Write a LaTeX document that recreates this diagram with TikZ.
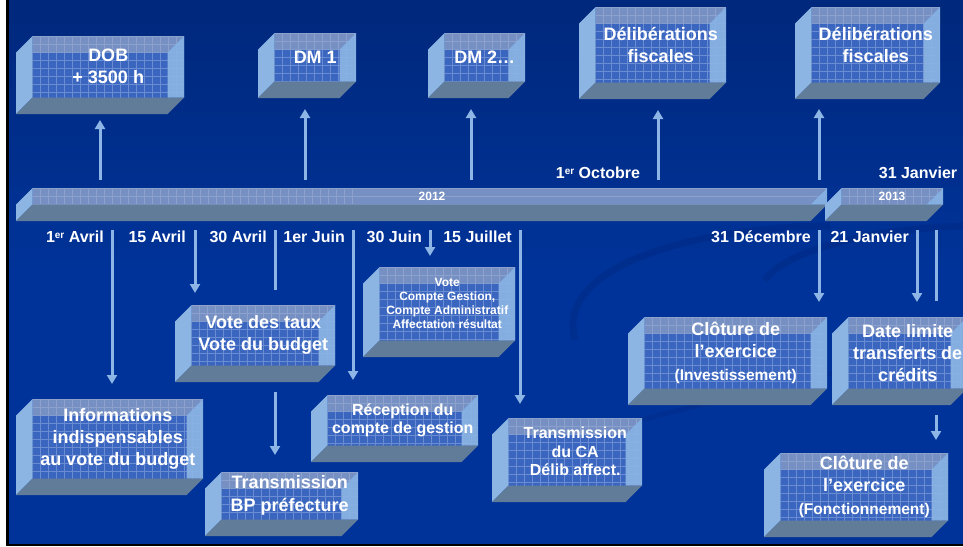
\documentclass[tikz,border=0pt]{standalone}
\usepackage{fontspec}
\setmainfont{Liberation Sans}
\usetikzlibrary{arrows.meta}
\definecolor{bgtop}{HTML}{00287C}
\definecolor{bgmid}{HTML}{003399}
\definecolor{backc}{HTML}{3B66C0}
\definecolor{gridc}{HTML}{6A8CD2}
\definecolor{topc}{HTML}{A8B4C8}
\definecolor{sidec}{HTML}{8DB5E4}
\definecolor{botc}{HTML}{607C98}
\definecolor{arrc}{HTML}{8DB6E6}
\definecolor{swoosh}{HTML}{002A85}
\newcommand\tdbox[7]{%
  \fill[backc] (#2+16.5,#3) rectangle (#4,#5-16.5);
  \begin{scope}
    \clip (#2+16.5,#3) rectangle (#4,#5-16.5);
    \foreach \gq in {0,8,...,320} {\draw[gridc,line width=0.5pt] (#2+16.5+\gq,#3) -- (#2+16.5+\gq,#5);}
    \foreach \gq in {0,8,...,120} {\draw[gridc,line width=0.5pt] (#2,#3+\gq) -- (#4,#3+\gq);}
  \end{scope}
  \fill[topc,opacity=0.55] (#2+16.5,#3) -- (#4,#3) -- (#4-16.5,#3+16.5) -- (#2+16.5,#3+16.5) -- cycle;
  \fill[sidec] (#2,#3+16.5) -- (#2+16.5,#3) -- (#2+16.5,#5-16.5) -- (#2,#5) -- cycle;
  \fill[sidec,opacity=0.9] (#4,#3) -- (#4-16.5,#3+16.5) -- (#4-16.5,#5-16.5) -- (#4,#5-16.5) -- cycle;
  \fill[botc] (#2,#5) -- (#2+16.5,#5-16.5) -- (#4,#5-16.5) -- (#4-16.5,#5) -- cycle;
  \node[boxtext,#6] (#1) at ({(#2+16.5+#4)/2},{(#3+#5-16.5)/2}) {#7};
}
\begin{document}
\begin{tikzpicture}[x=1pt,y=-1pt,
  boxtext/.style={text=white,align=center,inner sep=0pt},
  big/.style={font=\fontsize{18}{22}\selectfont\bfseries},
  bigb/.style={font=\fontsize{18}{23}\selectfont\bfseries},
  med/.style={font=\fontsize{16}{18.5}\selectfont\bfseries},
  sml/.style={font=\fontsize{12}{14}\selectfont\bfseries},
  nolbl/.style={},
  datelbl/.style={text=white,font=\fontsize{16}{18}\selectfont\bfseries,inner sep=0pt},
  yearlbl/.style={text=white,font=\fontsize{12}{14}\selectfont\bfseries,inner sep=0pt},
  arr/.style={draw=arrc,line width=3pt,-{Triangle[width=10pt,length=9pt]},fill=arrc},
  tick/.style={draw=arrc,line width=3pt}]
\useasboundingbox (0,0) rectangle (963,546);
% background
\fill[white] (0,0) rectangle (6,546);
\fill[black] (6,0) rectangle (9,546);
\shade[top color=bgtop,bottom color=bgmid,middle color=bgmid,shading angle=0] (9,0) rectangle (963,544);
\fill[black] (6,544) rectangle (963,546);
% faint swooshes
\draw[swoosh,line width=7pt,opacity=0.55] (575,340) .. controls (555,270) and (680,228) .. (830,226);
\draw[swoosh,line width=7pt,opacity=0.55] (765,280) .. controls (790,245) and (890,228) .. (963,226);
\draw[swoosh,line width=5pt,opacity=0.4] (640,420) .. controls (760,390) and (880,360) .. (963,345);
% timeline bars
\tdbox{bar12}{16}{188}{827}{221}{nolbl}{}
\tdbox{bar13}{825}{188}{943}{221}{nolbl}{}
\node[yearlbl] (y12) at (432,196) {2012};
\node[yearlbl] (y13) at (892,196) {2013};
% top boxes
\tdbox{dob}{16}{36}{184}{114}{big}{DOB\\+ 3500 h}
\tdbox{dm1}{258}{33}{356}{98}{big}{DM 1}
\tdbox{dm2}{428}{33}{525}{98}{big}{DM 2…}
\tdbox{delA}{579}{7}{726}{99}{big}{Délibérations\\fiscales}
\tdbox{delB}{795}{7}{940}{99}{big}{Délibérations\\fiscales}
% up arrows
\coordinate (u1) at (100,180); \coordinate (u1e) at (100,120);
\coordinate (u2) at (305,180); \coordinate (u2e) at (305,109);
\coordinate (u3) at (471,180); \coordinate (u3e) at (471,109);
\coordinate (u4) at (658,180); \coordinate (u4e) at (658,110);
\coordinate (u5) at (819,180); \coordinate (u5e) at (819,109);
\draw[arr] (u1) -- (u1e);
\draw[arr] (u2) -- (u2e);
\draw[arr] (u3) -- (u3e);
\draw[arr] (u4) -- (u4e);
\draw[arr] (u5) -- (u5e);
\node[datelbl] (oct) at (598,173) {1{\fontsize{10}{12}\selectfont\raisebox{4.5pt}{er}} Octobre};
\node[datelbl] (jan31) at (918,173) {31 Janvier};
% date labels
\node[datelbl,anchor=east] (d1) at (104,237) {1{\fontsize{10}{12}\selectfont\raisebox{4.5pt}{er}} Avril};
\node[datelbl,anchor=east] (d2) at (186,237) {15 Avril};
\node[datelbl,anchor=east] (d3) at (267,237) {30 Avril};
\node[datelbl,anchor=east] (d4) at (345,237) {1er Juin};
\node[datelbl,anchor=east] (d5) at (422,237) {30 Juin};
\node[datelbl,anchor=east] (d6) at (512,237) {15 Juillet};
\node[datelbl,anchor=east] (d7) at (811,237) {31 Décembre};
\node[datelbl,anchor=east] (d8) at (909,237) {21 Janvier};
% lower boxes
\tdbox{vote}{363}{267}{515}{357}{sml}{Vote\\Compte Gestion,\\Compte Administratif\\Affectation résultat}
\tdbox{taux}{175}{305}{335}{382}{big}{Vote des taux\\Vote du budget}
\tdbox{info}{16}{399}{203}{495}{big}{Informations\\indispensables\\au vote du budget}
\tdbox{bp}{205}{472}{358}{536}{bigb}{Transmission\\BP préfecture}
\tdbox{recep}{311}{395}{478}{462}{med}{Réception du\\compte de gestion}
\tdbox{ca}{492}{418}{642}{502}{med}{Transmission\\du CA\\Délib affect.}
\tdbox{cloA}{628}{317}{827}{405}{big}{Clôture de\\l’exercice\\[1pt]\fontsize{15.5}{18}\selectfont (Investissement)}
\tdbox{lim}{832}{317}{967}{405}{big}{Date limite\\transferts de\\crédits}
\tdbox{cloB}{764}{453}{948}{537}{big}{Clôture de\\l’exercice\\[1pt]\fontsize{15.5}{18}\selectfont (Fonctionnement)}
% down connectors
\coordinate (t1) at (112,230); \coordinate (t1e) at (112,384);
\coordinate (t2) at (195,230); \coordinate (t2e) at (195,293);
\coordinate (t3) at (275,230); \coordinate (t3e) at (275,290);
\coordinate (t4) at (353,230); \coordinate (t4e) at (353,380);
\coordinate (t5) at (430,230); \coordinate (t5e) at (430,256);
\coordinate (t6) at (520,230); \coordinate (t6e) at (520,404);
\coordinate (t7) at (819,230); \coordinate (t7e) at (819,302);
\coordinate (t8) at (917,230); \coordinate (t8e) at (917,302);
\coordinate (t9) at (936,230); \coordinate (t9e) at (936,301);
\coordinate (b1) at (275,392); \coordinate (b1e) at (275,455);
\coordinate (b2) at (936,415); \coordinate (b2e) at (936,440);
\draw[arr] (t1) -- (t1e);
\draw[arr] (t2) -- (t2e);
\draw[tick] (t3) -- (t3e);
\draw[arr] (t4) -- (t4e);
\draw[arr] (t5) -- (t5e);
\draw[arr] (t6) -- (t6e);
\draw[arr] (t7) -- (t7e);
\draw[arr] (t8) -- (t8e);
\draw[tick] (t9) -- (t9e);
\draw[arr] (b1) -- (b1e);
\draw[arr] (b2) -- (b2e);
\end{tikzpicture}
\end{document}
